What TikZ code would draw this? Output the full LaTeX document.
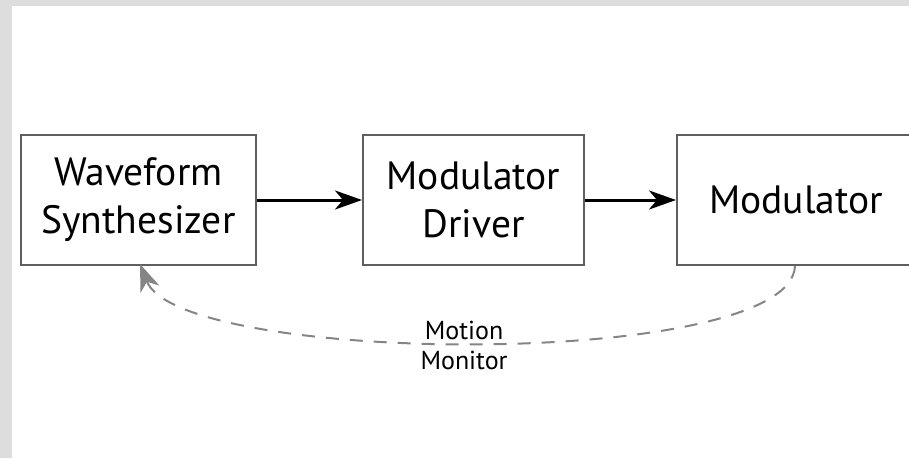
\documentclass[tikz,border=0pt]{standalone}
\usepackage{fontspec}
\setmainfont{PT Sans}
\usetikzlibrary{arrows.meta}
\definecolor{bgstrip}{HTML}{DDDDDD}
\definecolor{boxline}{HTML}{5F5F5F}
\definecolor{dashgray}{HTML}{858585}
\tikzset{
  blockbox/.style={draw=boxline, line width=2pt, rectangle, minimum height=130pt,
    inner sep=0pt, align=center, font=\fontsize{39.5}{48}\selectfont},
  mainarrow/.style={line width=3pt, black, -{Stealth[length=27pt,width=19pt,inset=8pt]}},
  feedback/.style={draw=dashgray, line width=2pt, dash pattern=on 13pt off 11pt,
    -{Stealth[length=27pt,width=20pt,inset=8pt]}},
  labeltext/.style={align=center, inner sep=0pt, font=\fontsize{26}{30}\selectfont}
}
\begin{document}
\begin{tikzpicture}[x=1pt,y=-1pt]
\useasboundingbox (0,0) rectangle (909,458);
\fill[bgstrip] (0,0) rectangle (909,6);
\fill[bgstrip] (0,0) rectangle (12,458);
\node[blockbox, minimum width=235pt] (b1) at (138.5,200) {Waveform\\Synthesizer};
\node[blockbox, minimum width=221pt] (b2) at (473.5,200) {Modulator\\Driver};
\node[blockbox, minimum width=238pt] (b3) at (796,200) {Modulator};
\draw[mainarrow] (b1) -- (b2);
\draw[mainarrow] (b2) -- (b3);
\draw[feedback] ([xshift=-1pt]b3.south) .. controls +(-4,104) and +(40,102) .. ([xshift=1.5pt,yshift=2pt]b1.south);
\node[labeltext] (lbl) at (464,345) {Motion\\Monitor};
\end{tikzpicture}
\end{document}
